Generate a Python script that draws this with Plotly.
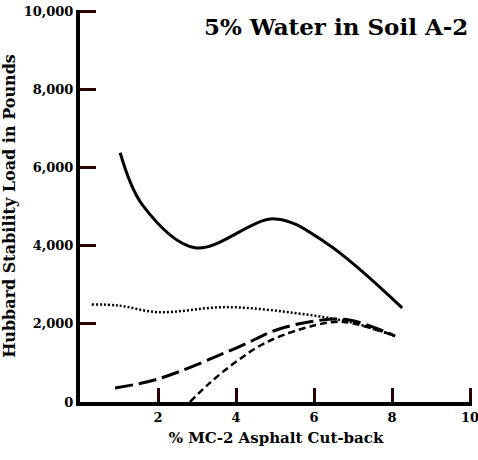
import plotly.graph_objects as go

# Data
solid_x = [1.03, 1.6, 2.95, 5.0, 6.3, 8.26]
solid_y = [6385, 5050, 3950, 4690, 4080, 2410]

dotted_x = [0.3, 1.0, 2.0, 3.75, 5.5, 7.0, 8.08]
dotted_y = [2500, 2470, 2300, 2430, 2280, 2030, 1690]

longdash_x = [0.9, 2.0, 4.0, 5.05, 6.05, 6.9, 8.08]
longdash_y = [360, 590, 1380, 1850, 2080, 2100, 1690]

shortdash_x = [2.82, 3.33, 4.0, 4.8, 6.05, 6.75, 8.08]
shortdash_y = [0, 490, 1030, 1540, 1970, 2050, 1690]

y_ticks = [0, 2000, 4000, 6000, 8000, 10000]
y_ticktext = ["0", "2,000", "4,000", "6,000", "8,000", "10,000"]
x_ticks = [2, 4, 6, 8, 10]
x_ticktext = ["2", "4", "6", "8", "10"]

FONT = "DejaVu Serif"
TICKC = "#2a0000"

fig = go.Figure()
fig.add_trace(go.Scatter(x=solid_x, y=solid_y, mode="lines",
                         line=dict(color="black", width=3, shape="spline")))
fig.add_trace(go.Scatter(x=dotted_x, y=dotted_y, mode="lines",
                         line=dict(color="black", width=2.5, shape="spline", dash="2px,2px")))
fig.add_trace(go.Scatter(x=longdash_x, y=longdash_y, mode="lines",
                         line=dict(color="black", width=3, shape="spline", dash="18px,6px")))
fig.add_trace(go.Scatter(x=shortdash_x, y=shortdash_y, mode="lines",
                         line=dict(color="black", width=2.5, shape="spline", dash="7px,4px")))

fig.update_layout(
    width=478, height=460,
    margin=dict(l=80, r=6, t=10, b=58),
    paper_bgcolor="white", plot_bgcolor="white",
    showlegend=False,
    font=dict(family=FONT, color="black", size=13, weight="bold"),
    xaxis=dict(range=[0, 10.05], tickvals=x_ticks, ticktext=x_ticktext,
               automargin=False, ticklabeloverflow="allow",
               showgrid=False, zeroline=False, showline=True, linewidth=4, linecolor="black",
               ticks="inside", ticklen=14, tickwidth=3, tickcolor=TICKC,
               tickfont=dict(family=FONT, size=13, weight="bold"),
               title=dict(text="% MC-2 Asphalt Cut-back", standoff=10,
                          font=dict(family=FONT, size=15, weight="bold"))),
    yaxis=dict(range=[0, 10040], tickvals=y_ticks, ticktext=y_ticktext,
               automargin=False, ticklabeloverflow="allow",
               showgrid=False, zeroline=False, showline=True, linewidth=4, linecolor="black",
               ticks="inside", ticklen=16, tickwidth=3, tickcolor=TICKC,
               tickfont=dict(family=FONT, size=13, weight="bold"),
               title=dict(text="Hubbard Stability Load in Pounds", standoff=8,
                          font=dict(family=FONT, size=16, weight="bold"))),
)

fig.add_annotation(text="5% Water in Soil A-2", xref="paper", yref="paper",
                   x=0.995, y=0.957, xanchor="right", yanchor="middle", showarrow=False,
                   font=dict(family=FONT, size=23, weight="bold", color="black"))

fig.write_html("out.html", config={"displayModeBar": False},
               post_script="document.body.style.margin='0px';")
